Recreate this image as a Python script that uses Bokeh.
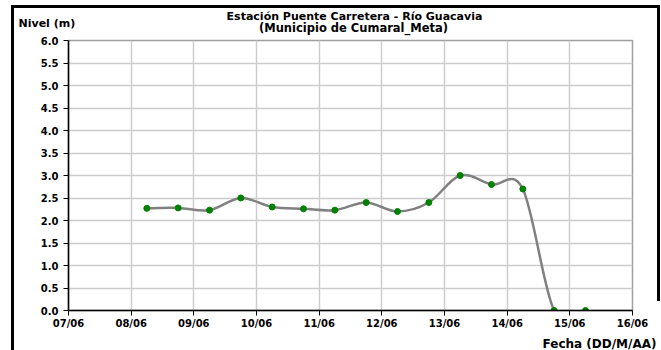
import numpy as np
import pandas as pd
from bokeh.plotting import figure
from bokeh.models import (Range1d, FixedTicker, DatetimeTickFormatter, Label,
                          ColumnDataSource, PrintfTickFormatter)
from bokeh.embed import file_html
from bokeh.resources import INLINE

# ---- data ----
fechas = ["2012-06-08 06:00", "2012-06-08 18:00", "2012-06-09 06:00", "2012-06-09 18:00",
          "2012-06-10 06:00", "2012-06-10 18:00", "2012-06-11 06:00", "2012-06-11 18:00",
          "2012-06-12 06:00", "2012-06-12 18:00", "2012-06-13 06:00", "2012-06-13 18:00",
          "2012-06-14 06:00", "2012-06-14 18:00", "2012-06-15 06:00"]
nivel = [2.27, 2.28, 2.23, 2.50, 2.30, 2.26, 2.23, 2.40, 2.20, 2.40, 3.00, 2.80, 2.70, 0.0, 0.0]
dias = ["2012-06-07", "2012-06-08", "2012-06-09", "2012-06-10", "2012-06-11",
        "2012-06-12", "2012-06-13", "2012-06-14", "2012-06-15", "2012-06-16"]
y_ticks = [0.0, 0.5, 1.0, 1.5, 2.0, 2.5, 3.0, 3.5, 4.0, 4.5, 5.0, 5.5, 6.0]
titulo_1 = "Estación Puente Carretera - Río Guacavia"
titulo_2 = "(Municipio de Cumaral_Meta)"
eje_y = "Nivel (m)"
eje_x = "Fecha (DD/M/AA)"


def to_ms(values):
    return pd.to_datetime(values).values.astype("datetime64[ms]").astype("int64").astype(float)


x = to_ms(fechas)
y = np.array(nivel, dtype=float)
tick_ms = list(to_ms(dias))

# smoothed line (Catmull-Rom style bezier segments through the data points)
n = len(x)
xp = np.concatenate([[x[0]], x, [x[-1]]])
yp = np.concatenate([[y[0]], y, [y[-1]]])
x0, y0 = x[:-1], y[:-1]
x1, y1 = x[1:], y[1:]
cx0 = x0 + (xp[2:n + 1] - xp[0:n - 1]) / 6.0
cy0 = y0 + (yp[2:n + 1] - yp[0:n - 1]) / 6.0
cx1 = x1 - (xp[3:n + 2] - xp[1:n]) / 6.0
cy1 = y1 - (yp[3:n + 2] - yp[1:n]) / 6.0
bez = ColumnDataSource(dict(x0=x0, y0=y0, x1=x1, y1=y1, cx0=cx0, cy0=cy0, cx1=cx1, cy1=cy1))
pts = ColumnDataSource(dict(x=x, y=y))

FONT = "DejaVu Sans"

p = figure(width=661, height=350, x_axis_type="datetime",
           x_range=Range1d(tick_ms[0], tick_ms[-1]), y_range=Range1d(y_ticks[0], y_ticks[-1]),
           output_backend="svg", toolbar_location=None,
           min_border_left=68, min_border_right=29, min_border_top=39, min_border_bottom=40)
# outer black frame of the chart (left, top, right) drawn as background of the host element
p.styles = {
    "background-color": "white",
    "background-image": ("linear-gradient(black, black), linear-gradient(black, black), "
                         "linear-gradient(black, black)"),
    "background-repeat": "no-repeat",
    "background-position": "11px 5px, 11px 5px, 657px 5px",
    "background-size": "3px 345px, 649px 3px, 3px 296px",
}
p.background_fill_color = "white"
p.border_fill_alpha = 0
p.outline_line_color = "#a0a0a0"
p.outline_line_width = 1.5

xt = FixedTicker(ticks=tick_ms)
yt = FixedTicker(ticks=y_ticks)
p.xaxis.ticker = xt
p.yaxis.ticker = yt
p.xgrid.ticker = xt
p.ygrid.ticker = yt
p.xaxis.formatter = DatetimeTickFormatter(days="%d/%m", months="%d/%m", hours="%d/%m")
p.yaxis.formatter = PrintfTickFormatter(format="%.1f")
p.xgrid.grid_line_color = "#cccccc"
p.ygrid.grid_line_color = "#cccccc"
p.xgrid.grid_line_width = 1.5
p.ygrid.grid_line_width = 1.5

for ax in (p.xaxis, p.yaxis):
    ax.axis_line_color = "black"
    ax.axis_line_width = 1.5
    ax.major_tick_line_color = "black"
    ax.major_tick_line_width = 1
    ax.major_tick_out = 5
    ax.major_tick_in = 0
    ax.minor_tick_line_color = None
    ax.major_label_text_font = FONT
    ax.major_label_text_font_style = "bold"
    ax.major_label_text_font_size = "10px"
    ax.major_label_text_color = "black"
p.xaxis.major_label_standoff = 2
p.yaxis.major_label_standoff = 5

p.bezier(x0="x0", y0="y0", x1="x1", y1="y1", cx0="cx0", cy0="cy0", cx1="cx1", cy1="cy1",
         source=bez, line_color="#808080", line_width=2.5)
p.scatter("x", "y", source=pts, size=6, fill_color="#008000", line_color="#008000")

lab = dict(x_units="screen", y_units="screen", text_font=FONT, text_font_style="bold",
           text_color="black", text_baseline="alphabetic")
# texts outside the plot area go into side panels (not clipped to the frame)
p.add_layout(Label(x=285, y=13, text=titulo_2, text_font_size="11.5px", text_align="center", **lab), "above")
p.add_layout(Label(x=286, y=10, text=titulo_1, text_font_size="11px", text_align="center", **lab), "above")
p.add_layout(Label(x=-50, y=-10, text=eje_y, text_font_size="11px", text_align="left", **lab), "above")
p.add_layout(Label(x=588, y=2, text=eje_x, text_font_size="12px", text_align="right", **lab), "below")

open("out.html", "w").write(file_html(p, INLINE))
